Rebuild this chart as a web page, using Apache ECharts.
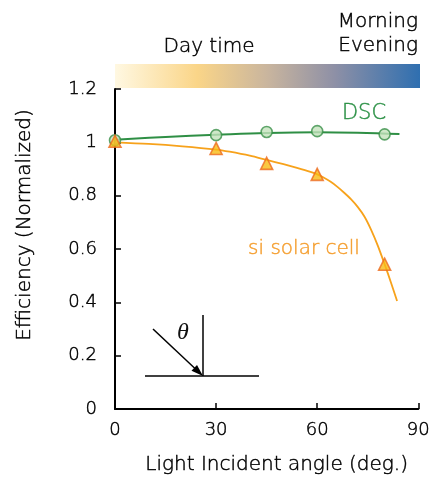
<!DOCTYPE html>
<html>
<head>
<meta charset="utf-8">
<script src="https://cdn.jsdelivr.net/npm/echarts@6/dist/echarts.min.js"></script>
<style>html,body{margin:0;padding:0;background:#fff}#c{width:433px;height:483px}</style>
</head>
<body>
<div id="c"></div>
<script>
// ---- data ----
var xTicks = [0, 30, 60, 90];
var yTicks = [0, 0.2, 0.4, 0.6, 0.8, 1, 1.2];
var measuredAngles = [0, 30, 45, 60, 80];
var dscPoints = [1.008, 1.027, 1.039, 1.042, 1.030];
var siPoints = [1.004, 0.977, 0.921, 0.880, 0.543];
var dscFitX = [0, 15, 30, 45, 60, 72, 84.4];
var dscFitY = [1.010, 1.020, 1.028, 1.035, 1.038, 1.036, 1.031];
var siFitX = [0, 10, 20, 30, 34, 40, 45, 50, 54, 58, 60, 62, 64, 66, 68, 70, 72, 74, 76, 78, 80, 82, 83.7];
var siFitY = [1.000, 0.994, 0.985, 0.973, 0.965, 0.950, 0.934, 0.918, 0.904, 0.889, 0.880, 0.867, 0.852, 0.833, 0.811, 0.787, 0.758, 0.722, 0.672, 0.612, 0.543, 0.470, 0.405];

function zip(a, b) { return a.map(function (v, i) { return [v, b[i]]; }); }

var FONT = 'DejaVu Sans';
var TXT = '#000';
var BW = 0.45;
var chart = echarts.init(document.getElementById('c'), null, {renderer: 'canvas'});

function ts(size, color) {
  return {fontFamily: FONT, fontWeight: 200, fontSize: size, color: color,
    textBorderColor: color, textBorderWidth: BW};
}
function gtext(x, y, text, size, color, align) {
  return {type: 'text', x: x, y: y, silent: true, style: {text: text, fontFamily: FONT, fontWeight: 200,
    fontSize: size, fill: color, stroke: color, lineWidth: BW, align: align, verticalAlign: 'middle'}};
}

var xName = ts(20, TXT); xName.padding = [0, 0, 0, 20];
var yName = ts(20, TXT); yName.padding = [0, 0, 0, 48];
var xLab = ts(18, TXT); xLab.margin = 12;
xLab.formatter = function (v) { return xTicks.indexOf(v) >= 0 ? String(v) : ''; };
var yLab = ts(18, TXT); yLab.margin = 18;
yLab.formatter = function (v) {
  for (var i = 0; i < yTicks.length; i++) { if (Math.abs(yTicks[i] - v) < 1e-6) return String(yTicks[i]); }
  return '';
};

var option = {
  animation: false,
  grid: {left: 115, right: 14, top: 89, bottom: 74, containLabel: false},
  xAxis: {
    type: 'value', min: 0, max: 90, interval: 30,
    name: 'Light Incident angle (deg.)', nameLocation: 'middle', nameGap: 46,
    nameTextStyle: xName,
    axisLine: {lineStyle: {color: '#000', width: 2}},
    axisTick: {inside: true, length: 6, lineStyle: {color: '#000', width: 1.5}},
    axisLabel: xLab,
    splitLine: {show: false}
  },
  yAxis: {
    type: 'value', min: 0, max: 1.2, interval: 0.2,
    name: 'Efficiency (Normalized)', nameLocation: 'middle', nameGap: 80, nameRotate: 90,
    nameTextStyle: yName,
    axisLine: {show: true, lineStyle: {color: '#000', width: 2}},
    axisTick: {show: true, inside: true, length: 6, lineStyle: {color: '#000', width: 1.5}},
    axisLabel: yLab,
    splitLine: {show: false}
  },
  series: [
    {type: 'line', data: zip(dscFitX, dscFitY), smooth: 0.4, showSymbol: false,
      lineStyle: {color: '#2F8F45', width: 2}, z: 2},
    {type: 'line', data: zip(siFitX, siFitY), smooth: 0.3, showSymbol: false,
      lineStyle: {color: '#F7A21B', width: 1.8}, z: 2},
    {type: 'scatter', data: zip(measuredAngles, dscPoints), symbol: 'circle', symbolSize: 11,
      itemStyle: {color: '#C3E2BC', borderColor: '#3A9048', borderWidth: 1.6}, z: 3},
    {type: 'scatter', data: zip(measuredAngles, siPoints), symbol: 'triangle', symbolSize: 12,
      itemStyle: {color: '#F7BA14', borderColor: '#EC6A1E', borderWidth: 1.6}, z: 4}
  ],
  graphic: [
    {type: 'rect', shape: {x: 115, y: 64, width: 305, height: 24}, silent: true,
      style: {fill: new echarts.graphic.LinearGradient(0, 0, 1, 0, [
        {offset: 0, color: '#FFF8E2'},
        {offset: 0.27, color: '#FAD588'},
        {offset: 0.5, color: '#C9B59E'},
        {offset: 0.72, color: '#8E90A6'},
        {offset: 1, color: '#2F6FB0'}
      ])}},
    gtext(209, 47, 'Day time', 20, TXT, 'center'),
    gtext(418, 22, 'Morning', 20, TXT, 'right'),
    gtext(418, 46, 'Evening', 20, TXT, 'right'),
    gtext(364, 114, 'DSC', 21, '#2E9248', 'center'),
    gtext(304, 249, 'si solar cell', 20, '#F5A033', 'center'),
    // incidence-angle inset
    {type: 'line', shape: {x1: 145, y1: 376, x2: 259, y2: 376}, style: {stroke: '#000', lineWidth: 1.5}},
    {type: 'line', shape: {x1: 203, y1: 315, x2: 203, y2: 376}, style: {stroke: '#000', lineWidth: 1.5}},
    {type: 'line', shape: {x1: 153, y1: 329, x2: 195, y2: 368.5}, style: {stroke: '#000', lineWidth: 1.5}},
    {type: 'polygon', shape: {points: [[203, 376], [191.5, 370.7], [197, 364.9]]}, style: {fill: '#000'}},
    {type: 'text', x: 183, y: 333, style: {text: 'θ', fontFamily: 'Liberation Serif', fontStyle: 'italic', fontSize: 24, fill: '#111', align: 'center', verticalAlign: 'middle'}}
  ]
};
chart.setOption(option);
</script>
</body>
</html>
